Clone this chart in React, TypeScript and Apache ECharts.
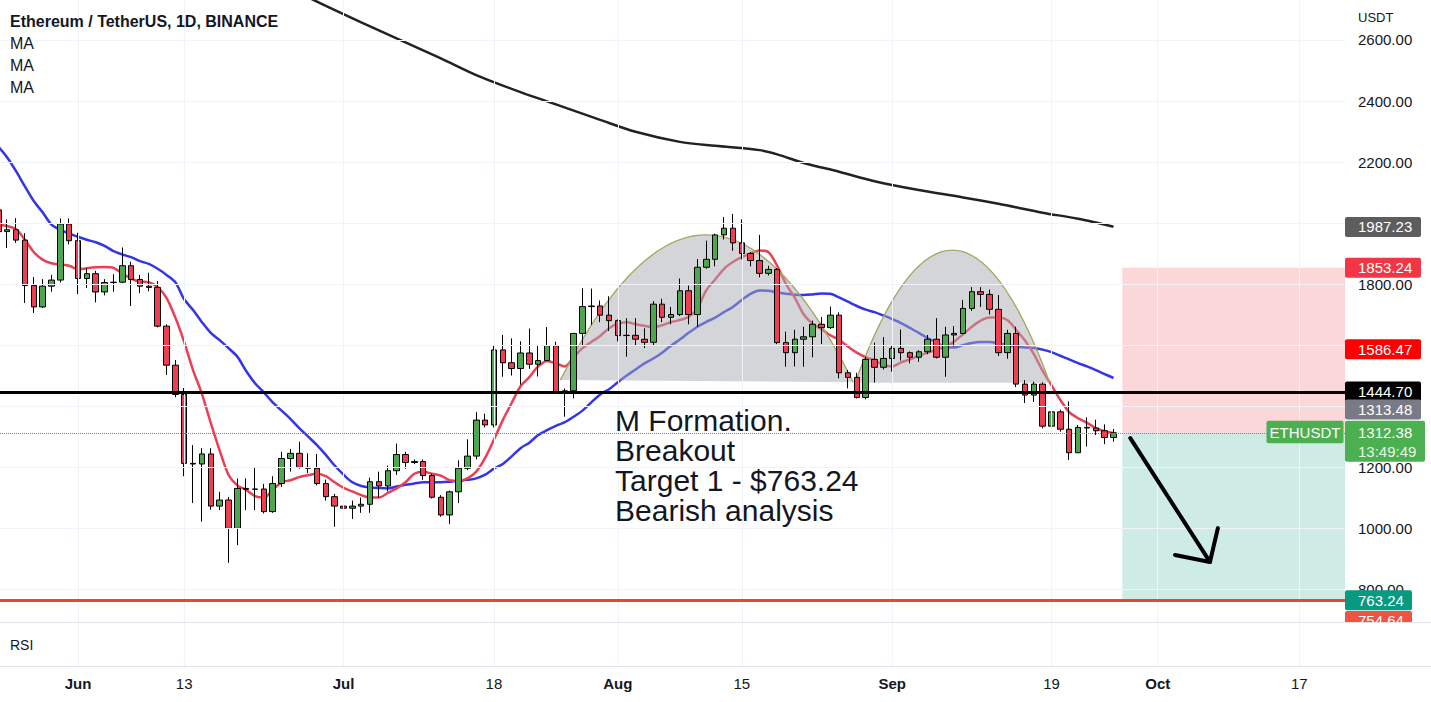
import { useEffect, useRef } from 'react';
import * as echarts from 'echarts';

const FONT = '"Liberation Sans", Arial, sans-serif';
const TEXT = '#131722';

// ---- data (days are counted from 1 Jun 2022) ----
const firstCandleDate = '2022-05-23';
// [open, close, low, high] for each daily candle from firstCandleDate
const ohlc: number[][] = [
  [2043, 1972, 1960, 2060], [1972, 1978, 1918, 2012], [1978, 1944, 1935, 2016], [1944, 1795, 1738, 1967],
  [1795, 1725, 1705, 1823], [1725, 1793, 1722, 1816], [1793, 1813, 1775, 1830], [1813, 1997, 1805, 2015],
  [1997, 1942, 1930, 2015], [1942, 1818, 1767, 1968], [1818, 1834, 1787, 1852], [1834, 1774, 1740, 1843],
  [1774, 1805, 1763, 1816], [1805, 1806, 1775, 1832], [1806, 1860, 1803, 1920], [1860, 1815, 1728, 1873],
  [1815, 1793, 1770, 1830], [1793, 1789, 1776, 1837], [1789, 1662, 1658, 1810], [1662, 1534, 1502, 1668],
  [1534, 1438, 1429, 1551], [1438, 1212, 1170, 1459], [1212, 1210, 1082, 1272], [1210, 1243, 1021, 1262],
  [1243, 1072, 1060, 1262], [1072, 1092, 1059, 1119], [1092, 999, 886, 1102], [999, 1130, 944, 1163],
  [1130, 1127, 1059, 1163], [1127, 1128, 1059, 1197], [1128, 1054, 1048, 1145], [1054, 1146, 1050, 1170],
  [1146, 1228, 1135, 1250], [1228, 1245, 1185, 1259], [1245, 1199, 1195, 1283], [1199, 1196, 1180, 1245],
  [1196, 1146, 1140, 1243], [1146, 1103, 1090, 1159], [1103, 1072, 1004, 1112], [1072, 1065, 1040, 1097],
  [1065, 1072, 1030, 1090], [1072, 1078, 1050, 1100], [1078, 1152, 1050, 1165], [1152, 1138, 1100, 1185],
  [1138, 1188, 1120, 1205], [1188, 1241, 1174, 1277], [1241, 1215, 1195, 1250], [1215, 1218, 1210, 1225],
  [1218, 1172, 1158, 1225], [1172, 1101, 1097, 1178], [1101, 1043, 1037, 1108], [1043, 1119, 1013, 1123],
  [1119, 1196, 1082, 1222], [1196, 1236, 1190, 1291], [1236, 1354, 1225, 1380], [1354, 1338, 1330, 1375],
  [1338, 1584, 1330, 1600], [1584, 1542, 1496, 1633], [1542, 1523, 1500, 1622], [1523, 1574, 1470, 1612],
  [1574, 1537, 1522, 1654], [1537, 1549, 1497, 1597], [1549, 1598, 1549, 1659], [1598, 1444, 1441, 1611],
  [1444, 1450, 1365, 1458], [1450, 1638, 1425, 1640], [1638, 1726, 1600, 1786], [1726, 1728, 1666, 1785],
  [1728, 1698, 1675, 1746], [1698, 1680, 1646, 1760], [1680, 1631, 1612, 1684], [1631, 1632, 1562, 1688],
  [1632, 1619, 1600, 1688], [1619, 1609, 1590, 1655], [1609, 1734, 1600, 1744], [1734, 1691, 1675, 1752],
  [1691, 1700, 1668, 1725], [1700, 1778, 1695, 1818], [1778, 1700, 1668, 1795], [1700, 1855, 1660, 1882],
  [1855, 1881, 1850, 1942], [1881, 1961, 1858, 1965], [1961, 1983, 1946, 2019], [1983, 1935, 1909, 2030],
  [1935, 1900, 1881, 2012], [1900, 1877, 1858, 1905], [1877, 1835, 1822, 1961], [1835, 1848, 1828, 1860],
  [1848, 1608, 1603, 1852], [1608, 1575, 1529, 1644], [1575, 1619, 1530, 1650], [1619, 1627, 1529, 1660],
  [1627, 1668, 1560, 1680], [1668, 1657, 1603, 1692], [1657, 1698, 1653, 1726], [1698, 1509, 1491, 1707],
  [1509, 1494, 1458, 1518], [1494, 1428, 1425, 1509], [1428, 1553, 1422, 1562], [1553, 1527, 1477, 1608],
  [1527, 1556, 1520, 1626], [1556, 1589, 1513, 1600], [1589, 1575, 1549, 1651], [1575, 1560, 1540, 1579],
  [1560, 1578, 1545, 1583], [1578, 1619, 1570, 1633], [1619, 1560, 1556, 1688], [1560, 1633, 1496, 1660],
  [1633, 1638, 1595, 1662], [1638, 1720, 1635, 1748], [1720, 1775, 1712, 1790], [1775, 1766, 1725, 1790],
  [1766, 1717, 1700, 1782], [1717, 1575, 1564, 1764], [1575, 1638, 1555, 1650], [1638, 1472, 1462, 1660],
  [1472, 1436, 1410, 1485], [1436, 1472, 1414, 1480], [1472, 1334, 1327, 1478], [1334, 1381, 1283, 1396],
  [1381, 1324, 1316, 1388], [1324, 1247, 1223, 1415], [1247, 1330, 1246, 1338], [1330, 1328, 1267, 1363],
  [1328, 1319, 1305, 1355], [1319, 1297, 1275, 1340], [1297, 1312.38, 1283, 1325],
];

// fast MA (red), one value per candle
const redMa: number[] = [
  1995, 1990, 1980, 1945, 1905, 1880, 1868, 1864, 1860, 1848, 1852, 1855, 1856, 1853, 1835, 1818,
  1808, 1806, 1790, 1755, 1690, 1610, 1518, 1440, 1345, 1255, 1175, 1140, 1125, 1105, 1100, 1125,
  1150, 1157, 1167, 1173, 1178, 1170, 1150, 1132, 1120, 1108, 1100, 1100, 1115, 1130, 1150, 1178,
  1185, 1178, 1172, 1157, 1155, 1163, 1185, 1230, 1290, 1354, 1410, 1465, 1495, 1530, 1548, 1540,
  1530, 1560, 1590, 1610, 1630, 1655, 1670, 1675, 1668, 1663, 1659, 1665, 1675, 1682, 1692, 1722,
  1780, 1815, 1850, 1872, 1888, 1900, 1910, 1905, 1860, 1800, 1755, 1700, 1670, 1652, 1632, 1617,
  1595, 1575, 1560, 1550, 1535, 1530, 1543, 1553, 1565, 1575, 1585, 1594, 1612, 1635, 1660, 1680,
  1690, 1690, 1682, 1650, 1615, 1570, 1515, 1468, 1420, 1380, 1360, 1345, 1328, 1318, 1311,
];

// slow MA (blue), one value per candle
const blueMa: number[] = [
  2250, 2215, 2170, 2120, 2072, 2035, 1995, 1978, 1965, 1955, 1945, 1937, 1925, 1908, 1897, 1888,
  1875, 1866, 1850, 1830, 1806, 1750, 1715, 1675, 1640, 1616, 1590, 1562, 1515, 1475, 1445, 1412,
  1385, 1358, 1328, 1300, 1272, 1240, 1205, 1175, 1150, 1138, 1133, 1131, 1130, 1136, 1142, 1146,
  1150, 1150, 1150, 1152, 1155, 1158, 1163, 1175, 1195, 1210, 1235, 1262, 1280, 1305, 1321, 1335,
  1347, 1365, 1385, 1412, 1438, 1455, 1478, 1500, 1520, 1540, 1556, 1575, 1598, 1618, 1640, 1660,
  1676, 1690, 1708, 1725, 1748, 1768, 1779, 1778, 1772, 1768, 1765, 1764, 1766, 1769, 1768, 1756,
  1742, 1728, 1716, 1708, 1697, 1685, 1672, 1656, 1640, 1623, 1608, 1594, 1592, 1600, 1607, 1610,
  1610, 1606, 1600, 1595, 1592, 1590, 1585, 1577, 1565, 1553, 1541, 1530, 1518, 1505, 1492,
];

// long MA (black)
const blackMaDates = [
  '2022-06-26', '2022-06-29', '2022-07-03', '2022-07-07', '2022-07-12', '2022-07-16', '2022-07-21',
  '2022-07-25', '2022-07-30', '2022-08-03', '2022-08-08', '2022-08-12', '2022-08-17', '2022-08-19',
  '2022-08-22', '2022-08-26', '2022-08-30', '2022-09-04', '2022-09-09', '2022-09-13', '2022-09-18',
  '2022-09-22', '2022-09-26',
];
const blackMaValues = [
  2754, 2712, 2658, 2605, 2540, 2485, 2429, 2389, 2338, 2299, 2266, 2253, 2239, 2225, 2197, 2168,
  2137, 2108, 2084, 2063, 2034, 2014, 1988,
];

const tickDates = [
  '2022-06-01', '2022-06-13', '2022-07-01', '2022-07-18', '2022-08-01',
  '2022-08-15', '2022-09-01', '2022-09-19', '2022-10-01', '2022-10-17',
];
const tickLabels = ['Jun', '13', 'Jul', '18', 'Aug', '15', 'Sep', '19', 'Oct', '17'];
const monthLabels = ['Jun', 'Jul', 'Aug', 'Sep', 'Oct'];

const priceTicks = [800, 1000, 1200, 1800, 2200, 2400, 2600];
const priceGrid = [800, 1000, 1200, 1400, 1600, 1800, 2000, 2200, 2400, 2600];

const resistance = 1444.7;
const targetPrice = 763.24;
const lastPrice = 1312.38;
const stopPrice = 1853.24;
const positionStartDate = '2022-09-27';

// price scale tags
const tagValues = [1987.23, 1853.24, 1586.47, 1444.7, 1313.48, 1312.38, 763.24, 754.64];
const countdown = '13:49:49';
const symbolName = 'ETHUSDT';

// arcs of the M formation: [startDay, startPrice, endDay, endPrice, peakPrice]
const arcs = [
  [54.5, 1485, 87.6, 1478, 1961],
  [87.8, 1476, 109.8, 1476, 1911],
];
// arrow: tail, tip, wing 1, wing 2 as [day, price]
const arrowPoints = [
  [118.9, 1295],
  [127.9, 889],
  [123.95, 912],
  [128.8, 1000],
];
const noteText = 'M Formation.\nBreakout\nTarget 1 - $763.24\nBearish analysis';
const noteAnchor = [60.68, 1402];

// ---- layout / styles ----
const X_MIN = -8.814;
const X_MAX = 143.16;
const Y_MIN = 692.1;
const Y_MAX = 2731.1;
const PLOT_W = 1345;
const MAIN_H = 622;

const tagStyles = [
  { bg: '#5d5d5d', dy: 0, w: 76 },
  { bg: '#f23645', dy: 0, w: 76 },
  { bg: '#ff0000', dy: 0, w: 76 },
  { bg: '#000000', dy: -1, w: 76 },
  { bg: '#787b86', dy: -23, w: 76 },
  { bg: '#4caf50', dy: 0, w: 80, two: true },
  { bg: '#089981', dy: 0, w: 67 },
  { bg: '#f0533f', dy: 18, w: 67 },
];

const DAY0 = Date.UTC(2022, 5, 1);
function dayOf(s: string): number {
  const [y, m, d] = s.split('-').map(Number);
  return (Date.UTC(y, m - 1, d) - DAY0) / 86400000;
}

function buildOption(): any {
  const start = dayOf(firstCandleDate);
  const candleData = ohlc.map((r, i) => [start + i, r[0], r[1], r[2], r[3]]);
  const redData = redMa.map((v, i) => [start + i, v]);
  const blueData = blueMa.map((v, i) => [start + i, v]);
  const blackData = blackMaDates.map((d, i) => [dayOf(d), blackMaValues[i]]);
  const tickDays = tickDates.map(dayOf);
  const boxStart = dayOf(positionStartDate);

  const hiddenAxis = {
    axisLine: { show: false },
    axisTick: { show: false },
    splitLine: { show: false },
  };

  return {
    animation: false,
    backgroundColor: '#ffffff',
    textStyle: { fontFamily: FONT },
    grid: [
      { left: 0, top: 0, width: PLOT_W, height: MAIN_H },
      { left: 0, top: 623, width: PLOT_W, height: 43 },
    ],
    xAxis: [
      { type: 'value', gridIndex: 0, min: X_MIN, max: X_MAX, ...hiddenAxis, axisLabel: { show: false } },
      {
        type: 'value', gridIndex: 1, min: X_MIN, max: X_MAX, ...hiddenAxis,
        axisLabel: {
          show: true,
          customValues: tickDays,
          margin: 10,
          formatter: (v: number) => {
            const i = tickDays.findIndex((t) => Math.abs(t - v) < 0.01);
            if (i < 0) return '';
            const lab = tickLabels[i];
            return monthLabels.includes(lab) ? `{b|${lab}}` : `{n|${lab}}`;
          },
          rich: {
            b: { fontFamily: FONT, fontSize: 15, fontWeight: 'bold', color: TEXT },
            n: { fontFamily: FONT, fontSize: 15, color: TEXT },
          },
        },
      },
    ],
    yAxis: [
      {
        type: 'value', gridIndex: 0, position: 'right', min: Y_MIN, max: Y_MAX, ...hiddenAxis,
        axisLabel: {
          show: true,
          customValues: priceTicks,
          margin: 13,
          formatter: (v: number) => v.toFixed(2),
          color: TEXT,
          fontSize: 15,
          fontFamily: FONT,
        },
      },
      { type: 'value', gridIndex: 1, min: 0, max: 100, show: false },
    ],
    graphic: [
      { type: 'text', z: 50, x: 10, y: 21, style: { text: 'Ethereum / TetherUS, 1D, BINANCE', fill: TEXT, font: `bold 16px ${FONT}`, verticalAlign: 'middle' } },
      { type: 'text', z: 50, x: 10, y: 43, style: { text: 'MA', fill: TEXT, font: `16px ${FONT}`, verticalAlign: 'middle' } },
      { type: 'text', z: 50, x: 10, y: 65, style: { text: 'MA', fill: TEXT, font: `16px ${FONT}`, verticalAlign: 'middle' } },
      { type: 'text', z: 50, x: 10, y: 87, style: { text: 'MA', fill: TEXT, font: `16px ${FONT}`, verticalAlign: 'middle' } },
      { type: 'text', z: 50, x: 1358, y: 17, style: { text: 'USDT', fill: TEXT, font: `13px ${FONT}`, verticalAlign: 'middle' } },
      { type: 'rect', z: 100, shape: { x: 1345, y: 622.5, width: 90, height: 82 }, style: { fill: '#ffffff' } },
      { type: 'text', z: 101, x: 10, y: 645, style: { text: 'RSI', fill: TEXT, font: `14px ${FONT}`, verticalAlign: 'middle' } },
      { type: 'line', z: 102, shape: { x1: 0, y1: 622.5, x2: 1431, y2: 622.5 }, style: { stroke: '#e0e3eb', lineWidth: 1 } },
      { type: 'line', z: 102, shape: { x1: 0, y1: 666.5, x2: 1431, y2: 666.5 }, style: { stroke: '#e0e3eb', lineWidth: 1 } },
    ],
    series: [
      {
        name: 'grid', type: 'line', xAxisIndex: 0, yAxisIndex: 0, data: [], z: 0, silent: true,
        markLine: {
          silent: true, symbol: ['none', 'none'], label: { show: false }, emphasis: { disabled: true },
          lineStyle: { color: '#f0f3fa', width: 1, type: 'solid' },
          data: [...priceGrid.map((v) => ({ yAxis: v })), ...tickDays.map((d) => ({ xAxis: d }))],
        },
      },
      {
        name: 'rsiGrid', type: 'line', xAxisIndex: 1, yAxisIndex: 1, data: [], z: 0, silent: true,
        markLine: {
          silent: true, symbol: ['none', 'none'], label: { show: false }, emphasis: { disabled: true },
          lineStyle: { color: '#f0f3fa', width: 1, type: 'solid' },
          data: tickDays.map((d) => ({ xAxis: d })),
        },
      },
      {
        name: 'position', type: 'line', xAxisIndex: 0, yAxisIndex: 0, data: [], z: 1, silent: true,
        markArea: {
          silent: true, emphasis: { disabled: true },
          data: [
            [{ xAxis: boxStart, yAxis: stopPrice, itemStyle: { color: 'rgba(242,54,69,0.2)' } }, { xAxis: X_MAX, yAxis: lastPrice }],
            [{ xAxis: boxStart, yAxis: lastPrice, itemStyle: { color: 'rgba(8,153,129,0.2)' } }, { xAxis: X_MAX, yAxis: targetPrice }],
          ],
        },
      },
      {
        name: 'MA long', type: 'line', data: blackData, z: 2, smooth: 0.3, showSymbol: false, silent: true,
        lineStyle: { color: '#222222', width: 2.5 },
      },
      {
        name: 'MA slow', type: 'line', data: blueData, z: 2, smooth: 0.3, showSymbol: false, silent: true,
        lineStyle: { color: '#3434e8', width: 2.5 },
      },
      {
        name: 'MA fast', type: 'line', data: redData, z: 2, smooth: 0.3, showSymbol: false, silent: true,
        lineStyle: { color: '#ea4055', width: 2.5 },
      },
      {
        name: 'arcs', type: 'custom', z: 3, silent: true, data: arcs,
        encode: { x: [0, 2], y: [1, 3, 4] },
        renderItem: (_p: any, api: any) => {
          const p0 = api.coord([api.value(0), api.value(1)]);
          const p1 = api.coord([api.value(2), api.value(3)]);
          const midX = (p0[0] + p1[0]) / 2;
          const peakY = api.coord([api.value(0), api.value(4)])[1];
          const ctrlY = 2 * peakY - (p0[1] + p1[1]) / 2;
          const curve = `M${p0[0]} ${p0[1]} Q${midX} ${ctrlY} ${p1[0]} ${p1[1]}`;
          return {
            type: 'group',
            children: [
              { type: 'path', shape: { pathData: curve + ' Z' }, style: { fill: 'rgba(168,172,180,0.5)', stroke: null } },
              { type: 'path', shape: { pathData: curve }, style: { fill: null, stroke: '#a6a45c', lineWidth: 1.3 } },
            ],
          };
        },
      },
      {
        name: 'ETHUSDT', type: 'candlestick', data: candleData, z: 4, silent: true,
        encode: { x: 0, y: [1, 2, 3, 4] },
        barWidth: 6,
        itemStyle: {
          color: '#4ea64e', color0: '#ee3e52', borderColor: '#000000', borderColor0: '#000000',
          borderColorDoji: '#000000', borderWidth: 1,
        },
      },
      {
        name: 'levels', type: 'line', xAxisIndex: 0, yAxisIndex: 0, data: [], z: 5, silent: true,
        markLine: {
          silent: true, symbol: ['none', 'none'], label: { show: false }, emphasis: { disabled: true },
          data: [
            { yAxis: lastPrice, lineStyle: { color: '#5f9a6a', width: 1, type: 'dotted' } },
            { yAxis: resistance, lineStyle: { color: '#000000', width: 3, type: 'solid' } },
            { yAxis: targetPrice, lineStyle: { color: '#e5463c', width: 3, type: 'solid' } },
          ],
        },
      },
      {
        name: 'arrow', type: 'custom', z: 6, silent: true, data: [arrowPoints.flat()],
        encode: { x: [0, 2, 4, 6], y: [1, 3, 5, 7] },
        renderItem: (_p: any, api: any) => {
          const pts = [0, 1, 2, 3].map((k) => api.coord([api.value(2 * k), api.value(2 * k + 1)]));
          const st = { stroke: '#000000', lineWidth: 4, lineCap: 'round', lineJoin: 'round', fill: null };
          return {
            type: 'group',
            children: [
              { type: 'polyline', shape: { points: [pts[0], pts[1]] }, style: st },
              { type: 'polyline', shape: { points: [pts[2], pts[1], pts[3]] }, style: st },
            ],
          };
        },
      },
      {
        name: 'note', type: 'custom', z: 6, silent: true, data: [noteAnchor],
        encode: { x: 0, y: 1 },
        renderItem: (_p: any, api: any) => {
          const p = api.coord([api.value(0), api.value(1)]);
          return {
            type: 'text', x: p[0], y: p[1],
            style: { text: noteText, fill: TEXT, fontSize: 30, fontFamily: FONT, lineHeight: 30, align: 'left', verticalAlign: 'top' },
          };
        },
      },
      {
        name: 'tags', type: 'custom', z: 7, silent: true, clip: false,
        data: tagValues.map((v) => [X_MAX, v]),
        encode: { x: 0, y: 1 },
        renderItem: (params: any, api: any) => {
          const i = params.dataIndex;
          const s: any = tagStyles[i];
          const p = api.coord([api.value(0), api.value(1)]);
          const x = p[0];
          const y = p[1] + s.dy;
          const children: any[] = [];
          if (s.two) {
            children.push({ type: 'rect', shape: { x, y: y - 12, width: s.w, height: 41, r: 2 }, style: { fill: s.bg } });
            children.push({ type: 'text', style: { text: countdown, x: x + 13, y: y + 18.5, fill: '#e8f5e9', fontSize: 15, fontFamily: FONT, verticalAlign: 'middle' } });
            children.push({ type: 'rect', shape: { x: x - 78.5, y: y - 12, width: 77, height: 22.5, r: 2 }, style: { fill: s.bg } });
            children.push({ type: 'text', style: { text: symbolName, x: x - 40, y: y, fill: '#ffffff', fontSize: 15, fontFamily: FONT, align: 'center', verticalAlign: 'middle' } });
          } else {
            children.push({ type: 'rect', shape: { x, y: y - 10, width: s.w, height: 20, r: 2 }, style: { fill: s.bg } });
          }
          children.push({ type: 'text', style: { text: tagValues[i].toFixed(2), x: x + 13, y, fill: '#ffffff', fontSize: 15, fontFamily: FONT, verticalAlign: 'middle' } });
          return { type: 'group', children };
        },
      },
    ],
  };
}

export default function App() {
  const ref = useRef<HTMLDivElement>(null);
  useEffect(() => {
    const el = ref.current;
    if (!el) return;
    const chart = echarts.init(el, null, { renderer: 'svg' });
    chart.setOption(buildOption());
    return () => chart.dispose();
  }, []);
  return (
    <div
      ref={ref}
      style={{ position: 'fixed', left: 0, top: 0, width: 1431, height: 702, background: '#ffffff' }}
    />
  );
}
